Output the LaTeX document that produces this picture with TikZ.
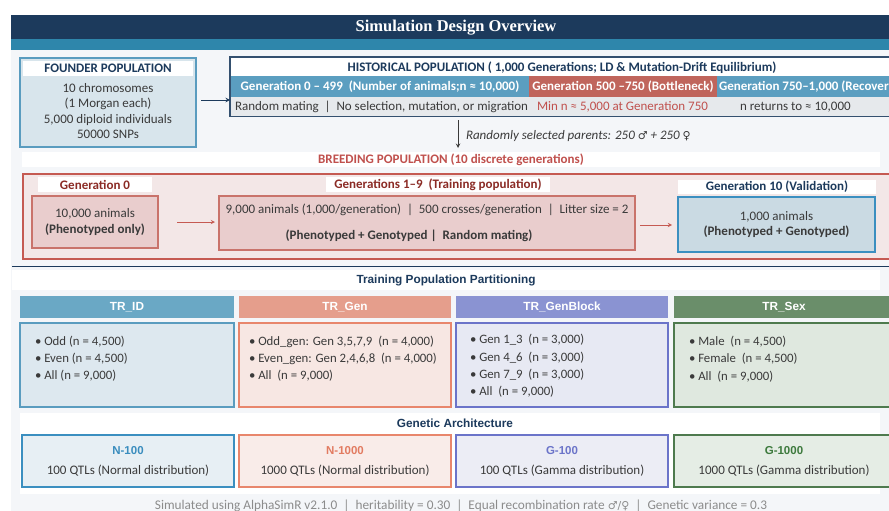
\documentclass[tikz,border=0pt]{standalone}
\usepackage{fontspec}
\setmainfont{Carlito}
\newfontfamily\helv{Liberation Sans}
\newfontfamily\serifhead{Liberation Serif}
\newfontfamily\symb{DejaVu Sans}
\usetikzlibrary{arrows}

\definecolor{navy}{HTML}{1C3A5C}
\definecolor{tealstrip}{HTML}{2E86AB}
\definecolor{panel}{HTML}{F4F6F9}
\definecolor{body}{HTML}{3A3A3A}
\definecolor{foundfill}{HTML}{D8E5EC}
\definecolor{foundedge}{HTML}{5A9CBF}
\definecolor{histedge}{HTML}{34506F}
\definecolor{histteal}{HTML}{5B9EC0}
\definecolor{histred}{HTML}{C0655C}
\definecolor{histgrey}{HTML}{E6E9EC}
\definecolor{redtext}{HTML}{C0504D}
\definecolor{darkred}{HTML}{8B2B25}
\definecolor{breedfill}{HTML}{F3E7E7}
\definecolor{breededge}{HTML}{C55A52}
\definecolor{genfill}{HTML}{E9CDCD}
\definecolor{genedge}{HTML}{C9736B}
\definecolor{valfill}{HTML}{CADAE3}
\definecolor{valedge}{HTML}{3B8FC0}
\definecolor{idhead}{HTML}{6AA8C5}
\definecolor{idfill}{HTML}{DDE8EF}
\definecolor{idedge}{HTML}{5A9CBF}
\definecolor{genhead}{HTML}{E59E8C}
\definecolor{genbfill}{HTML}{F7E7E3}
\definecolor{genbedge}{HTML}{E8866C}
\definecolor{blkhead}{HTML}{8A93D2}
\definecolor{blkfill}{HTML}{E7E9F3}
\definecolor{blkedge}{HTML}{6B74C9}
\definecolor{sexhead}{HTML}{6A8E6A}
\definecolor{sexfill}{HTML}{DFE8DF}
\definecolor{sexedge}{HTML}{4E7A4E}
\definecolor{ntitle}{HTML}{3A8DBE}
\definecolor{nntitle}{HTML}{E27B61}
\definecolor{gtitle}{HTML}{6B74C9}
\definecolor{ggtitle}{HTML}{3D7A3D}
\definecolor{footgrey}{HTML}{8C8C8C}

\begin{document}
\begin{tikzpicture}[x=1pt,y=-1pt,>=stealth,
    every node/.style={inner sep=0pt,outer sep=0pt},
    cell/.style 2 args={anchor=north west,rectangle,minimum width=#1,minimum height=#2},
    txt/.style={font=\fontsize{13}{16}\selectfont,text=body},
    hd/.style={font=\fontsize{13}{15}\selectfont\bfseries},
    hv/.style={font=\helv\fontsize{11.8}{14}\selectfont\bfseries},
    ga/.style={font=\helv\fontsize{11.5}{14}\selectfont\bfseries}]

  % page and header
  \clip (0,0) rectangle (889,511);
  \fill[white] (0,0) rectangle (889,511);
  \fill[panel] (11,50) rectangle (889,511);
  \node[cell={878}{24}, fill=navy] (head) at (11,15) {};
  \node[text=white, font=\serifhead\fontsize{16.5}{18}\selectfont\bfseries] (headtext) at (456,27.5) {Simulation Design Overview};
  \node[cell={878}{11}, fill=tealstrip] (strip) at (11,39) {};

  % founder population
  \node[cell={176}{89}, fill=foundfill, draw=foundedge, line width=1.5pt] (founder) at (20,58) {};
  \node[cell={170}{15}, fill=white, hd, text=navy] (foundtitle) at (23,61) {FOUNDER POPULATION};
  \node[txt, font=\fontsize{13}{15.3}\selectfont, align=center] (foundtext) at (108,111)
    {10 chromosomes\\(1 Morgan each)\\5,000 diploid individuals\\50000 SNPs};

  % historical population
  \node[cell={670}{59}, fill=white, draw=histedge, line width=1.2pt] (hist) at (230,57) {};
  \node[hd, text=navy] (histtitle) at (562,68) {HISTORICAL POPULATION ( 1,000 Generations; LD \& Mutation-Drift Equilibrium)};
  \node[cell={298}{21}, fill=histteal, hd, text=white] (seg1) at (231,76) {Generation 0 -- 499~ (Number of animals;n ≈ 10,000)};
  \node[cell={188}{21}, fill=histred, hd, text=white] (seg2) at (529,76) {Generation 500 --750 (Bottleneck)};
  \node[cell={183}{21}, fill=histteal] (seg3) at (717,76) {};
  \node[hd, text=white, anchor=west] (seg3text) at (719,86.5) {Generation 750--1,000 (Recovery)};
  \node[cell={668}{19}, fill=histgrey] (histrow) at (231,97) {};
  \node[txt, anchor=west] (histnote1) at (235,107) {Random mating~ |~ No selection, mutation, or migration};
  \node[txt, anchor=west, text=redtext] (histnote2) at (537,107) {Min n ≈ 5,000 at Generation 750};
  \node[txt, anchor=west] (histnote3) at (740,107) {n returns to ≈ 10,000};

  \draw[->, navy, line width=1pt] (founder.east |- 0,100) ++(5,0) -- (230,100);

  % parents
  \coordinate (pick) at (458,148);
  \draw[->, body, line width=1pt] (hist.south -| pick) ++(0,4) -- (pick);
  \node[txt, anchor=west, font=\fontsize{13}{15}\selectfont\itshape] (parents) at (466,136)
    {Randomly selected parents: 250 {\symb\fontsize{11}{12}\selectfont ♂} + 250 {\symb\fontsize{11}{12}\selectfont ♀}};

  % breeding population
  \node[cell={858}{15}, fill=white, hd, text=redtext] (breedtitle) at (22,152) {BREEDING POPULATION (10 discrete generations)};
  \node[cell={870}{85}, fill=breedfill, draw=breededge, line width=2pt] (breed) at (23,174) {};

  \node[cell={114}{15}, fill=white, hd, text=darkred] (g0title) at (38,177) {Generation 0};
  \node[cell={126}{52}, fill=genfill, draw=genedge, line width=1.2pt, txt, font=\fontsize{13}{16}\selectfont, align=center] (g0) at (32,196)
    {10,000 animals\\\bfseries (Phenotyped only)};

  \node[cell={224}{15}, fill=white, hd, text=darkred] (g19title) at (326,177) {Generations 1--9~ (Training population)};
  \node[cell={416}{54}, fill=genfill, draw=genedge, line width=1.2pt, txt, font=\fontsize{13}{26}\selectfont, align=center] (g19) at (219,196)
    {9,000 animals (1,000/generation)~ |~ 500 crosses/generation~ |~ Litter size = 2\\\bfseries (Phenotyped + Genotyped |~ Random mating)\hspace*{36pt}};

  \node[cell={198}{14}, fill=white, hd, text=navy] (g10title) at (678,180) {Generation 10 (Validation)};
  \node[cell={197}{55}, fill=valfill, draw=valedge, line width=1.5pt, txt, font=\fontsize{13}{15}\selectfont, align=center] (g10) at (678,197)
    {1,000 animals\\\bfseries (Phenotyped + Genotyped)};

  \draw[->, breededge, line width=0.9pt, shorten <=19pt, shorten >=4pt] (g0.east) -- (g0.east -| g19.west);
  \draw[->, breededge, line width=0.9pt, shorten <=5pt, shorten >=6pt] (g19.east |- 0,225) -- (g10.west |- 0,225);

  % training population partitioning
  \draw[navy, line width=1pt] (12,266) -- (889,266);
  \node[cell={868}{20}, fill=white, hv, text=navy] (trtitle) at (12,270) {Training Population Partitioning};

  \node[cell={214}{22}, fill=idhead, hv, text=white] (idhd) at (20,296) {TR\_ID};
  \node[cell={212}{22}, fill=genhead, hv, text=white] (genhd) at (239,296) {TR\_Gen};
  \node[cell={212}{22}, fill=blkhead, hv, text=white] (blkhd) at (456,296) {TR\_GenBlock};
  \node[cell={220}{22}, fill=sexhead, hv, text=white] (sexhd) at (674,296) {TR\_Sex};

  \node[cell={214}{84}, fill=idfill, draw=idedge, line width=1.2pt] (idbox) at (20,323) {};
  \node[cell={212}{84}, fill=genbfill, draw=genbedge, line width=1.2pt] (genbox) at (239,323) {};
  \node[cell={212}{84}, fill=blkfill, draw=blkedge, line width=1.2pt] (blkbox) at (456,323) {};
  \node[cell={220}{84}, fill=sexfill, draw=sexedge, line width=1.2pt] (sexbox) at (674,323) {};

  \node[txt, font=\fontsize{12.8}{17}\selectfont, anchor=west, align=left] (idlist) at (35,359)
    {• Odd (n = 4,500)\\• Even (n = 4,500)\\• All (n = 9,000)};
  \node[txt, font=\fontsize{12.8}{17}\selectfont, anchor=west, align=left] (genlist) at (249,359)
    {• Odd\_gen: Gen 3,5,7,9~ (n = 4,000)\\• Even\_gen: Gen 2,4,6,8~ (n = 4,000)\\• All~ (n = 9,000)};
  \node[txt, font=\fontsize{12.8}{17.3}\selectfont, anchor=west, align=left] (blklist) at (470,366)
    {• Gen 1\_3~ (n = 3,000)\\• Gen 4\_6~ (n = 3,000)\\• Gen 7\_9~ (n = 3,000)\\• All~ (n = 9,000)};
  \node[txt, font=\fontsize{12.8}{17.5}\selectfont, anchor=west, align=left] (sexlist) at (689,359)
    {• Male~ (n = 4,500)\\• Female~ (n = 4,500)\\• All~ (n = 9,000)};

  % genetic architecture
  \fill[white] (20,413) rectangle (880,494);
  \node[hv, text=navy] (gatitle) at (455,423) {Genetic Architecture};
  \node[cell={212}{52}, fill=idfill!70!white, draw=valedge, line width=1.2pt, txt, align=center, font=\fontsize{13}{20}\selectfont] (n100) at (22,435)
    {{\helv\bfseries\fontsize{11.5}{13}\selectfont\color{ntitle}N-100}\\100 QTLs (Normal distribution)};
  \node[cell={212}{52}, fill=genbfill!80!white, draw=genbedge, line width=1.2pt, txt, align=center, font=\fontsize{13}{20}\selectfont] (n1000) at (239,435)
    {{\helv\bfseries\fontsize{11.5}{13}\selectfont\color{nntitle}N-1000}\\1000 QTLs (Normal distribution)};
  \node[cell={212}{52}, fill=blkfill!80!white, draw=blkedge, line width=1.2pt, txt, align=center, font=\fontsize{13}{20}\selectfont] (g100) at (456,435)
    {{\helv\bfseries\fontsize{11.5}{13}\selectfont\color{gtitle}G-100}\\100 QTLs (Gamma distribution)};
  \node[cell={220}{52}, fill=sexfill!80!white, draw=sexedge, line width=1.2pt, txt, align=center, font=\fontsize{13}{20}\selectfont] (g1000) at (674,435)
    {{\helv\bfseries\fontsize{11.5}{13}\selectfont\color{ggtitle}G-1000}\\1000 QTLs (Gamma distribution)};

  % footer
  \node[txt, text=footgrey, font=\fontsize{13.3}{15}\selectfont] (footer) at (461,506)
    {Simulated using AlphaSimR v2.1.0~ |~ heritability = 0.30~ |~ Equal recombination rate {\symb\fontsize{11}{12}\selectfont ♂/♀}~ |~ Genetic variance = 0.3};
\end{tikzpicture}
\end{document}
